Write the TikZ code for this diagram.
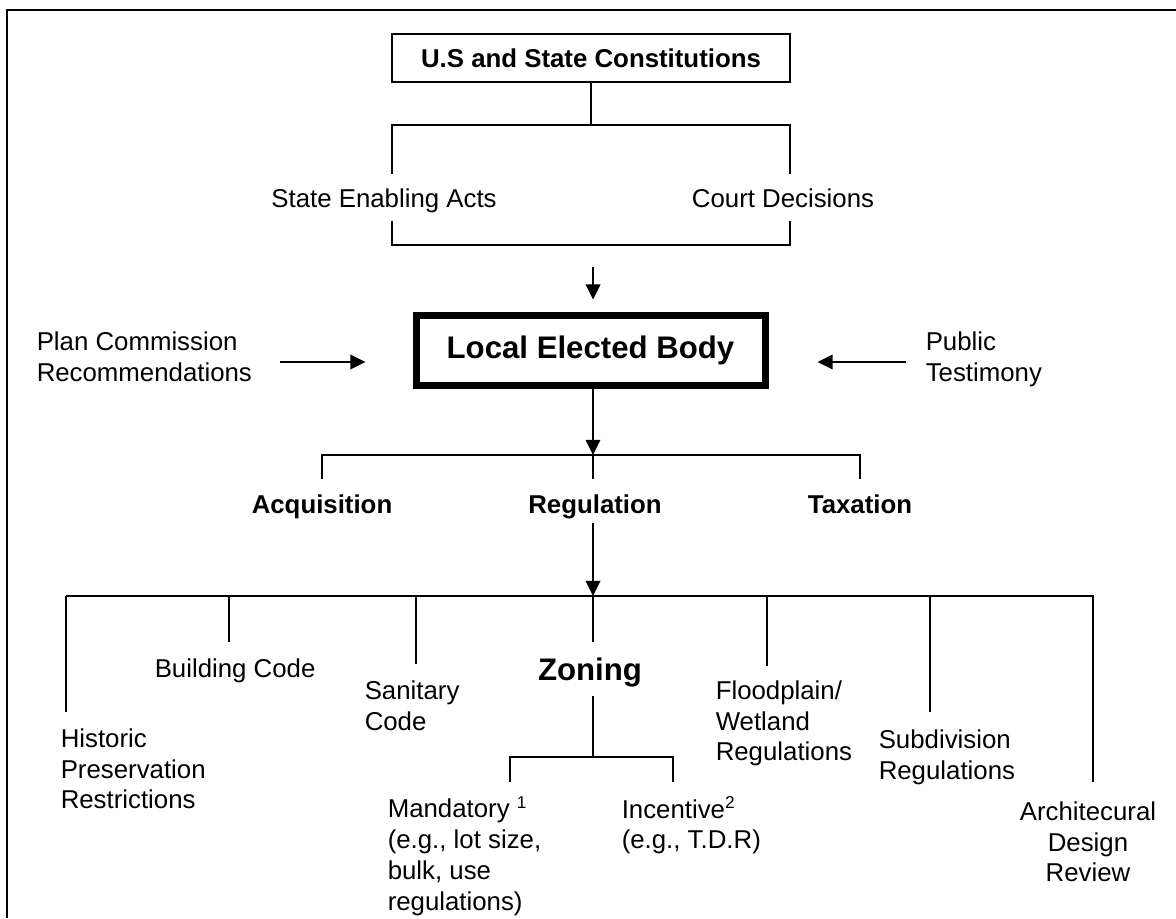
\documentclass[tikz,border=0pt]{standalone}
\usepackage{fontspec}
\setmainfont{Liberation Sans}
\usetikzlibrary{arrows.meta}
\begin{document}
\begin{tikzpicture}[x=0.465pt,y=-0.465pt,line width=0.7pt,
 txt/.style={inner sep=0pt,anchor=north west,align=left,font=\fontsize{12}{14.3}\selectfont},
 ctxt/.style={inner sep=0pt,anchor=base,font=\fontsize{12}{14.3}\selectfont},
 hdr/.style={inner sep=0pt,anchor=base,font=\fontsize{12}{14.3}\selectfont\bfseries},
 big/.style={inner sep=0pt,font=\fontsize{14.5}{17}\selectfont\bfseries},
 arr/.style={-{Triangle[length=7pt,width=6.8pt]}}]
\useasboundingbox (0,0) rectangle (1176,918);
% frame
\coordinate (f1) at (7,918); \coordinate (f2) at (7,10); \coordinate (f3) at (1176,10);
\draw[line width=1.1pt] (f1) -- (f2) -- (f3);
% constitutions
\node[hdr,anchor=center,draw,line width=0.8pt,minimum width={398*0.465pt},minimum height={48*0.465pt}] (const) at (591,58) {U.S and State Constitutions};
\coordinate (t1) at (591,125);
\coordinate (t1l) at (392,125); \coordinate (t1r) at (790,125);
\coordinate (t1ll) at (392,174); \coordinate (t1rr) at (790,174);
\draw (const.south) -- (t1);
\draw (t1ll) -- (t1l) -- (t1r) -- (t1rr);
\node[ctxt] (sea) at (384,208) {State Enabling Acts};
\node[ctxt] (court) at (783,208) {Court Decisions};
\coordinate (t2ll) at (392,221); \coordinate (t2l) at (392,245);
\coordinate (t2r) at (790,245); \coordinate (t2rr) at (790,221);
\draw (t2ll) -- (t2l) -- (t2r) -- (t2rr);
% local elected body
\node[big,draw,line width=3.25pt,minimum width={349*0.465pt},minimum height={70*0.465pt}] (leb) at (590.5,350.5) {Local Elected Body};
\coordinate (a1) at (593,267);
\draw[arr,shorten >=5.8pt] (a1) -- (a1 |- leb.north);
\node[txt] (plan) at (36,331) {Plan Commission\\Recommendations};
\node[txt] (pub) at (925,331) {Public\\Testimony};
\coordinate (pa) at (280,362);
\coordinate (pb) at (906,362);
\draw[arr,shorten >=21.9pt] (pa) -- (pa -| leb.west);
\draw[arr,shorten >=22.8pt] (pb) -- (pb -| leb.east);
% branches
\coordinate (t3) at (593,455);
\draw[arr] (t3 |- leb.south) -- (t3);
\coordinate (t3l) at (322,455); \coordinate (t3r) at (860,455);
\coordinate (t3ll) at (322,479); \coordinate (t3m) at (593,479); \coordinate (t3rr) at (860,479);
\draw (t3ll) -- (t3l) -- (t3r) -- (t3rr);
\draw (t3) -- (t3m);
\node[hdr] (acq) at (322,513.5) {Acquisition};
\node[hdr] (reg) at (595,513.5) {Regulation};
\node[hdr] (tax) at (860,513.5) {Taxation};
\coordinate (t4) at (593,596);
\draw[arr,shorten <=1.5pt] (t4 |- reg.south) -- (t4);
\coordinate (b0) at (66,596); \coordinate (b9) at (1094,596);
\draw (b0) -- (b9);
\foreach \x/\y in {66/712,229/642,416/664,593/642,767/666,930/712,1093/782}{
  \draw (\x,596) -- (\x,\y);
}
% bottom labels
\node[txt] (hist) at (60,728) {Historic\\Preservation\\Restrictions};
\node[txt] (bldg) at (154,658) {Building Code};
\node[txt] (sani) at (364,680) {Sanitary\\Code};
\node[big] (zon) at (590,672.5) {Zoning};
\coordinate (z2) at (593,757);
\draw[shorten <=3.7pt] (zon.south -| z2) -- (z2);
\coordinate (zl) at (510,757); \coordinate (zr) at (673,757);
\coordinate (zll) at (510,782); \coordinate (zrr) at (673,782);
\draw (zll) -- (zl) -- (zr) -- (zrr);
\node[txt] (mand) at (387,796) {Mandatory \textsuperscript{1}\\(e.g., lot size,\\bulk, use\\regulations)};
\node[txt] (inc) at (621,796) {Incentive\textsuperscript{2}\\(e.g., T.D.R)};
\node[txt] (flood) at (715,680) {Floodplain/\\Wetland\\Regulations};
\node[txt] (sub) at (878,729) {Subdivision\\Regulations};
\node[txt,anchor=north,align=center] (arch) at (1088,801) {Architecural\\Design\\Review};
\end{tikzpicture}
\end{document}
